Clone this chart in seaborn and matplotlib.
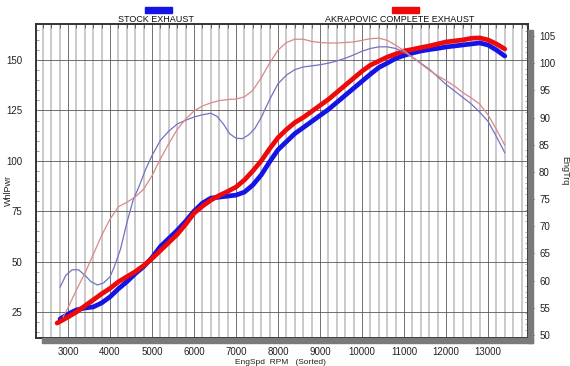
import pandas as pd
import matplotlib.pyplot as plt
import seaborn as sns
from matplotlib.ticker import MultipleLocator
from matplotlib.patches import Rectangle

# wheel power, stock exhaust (thick blue, left axis)
stock_pwr_rpm = [2810, 3000, 3200, 3400, 3600, 3800, 4000, 4200, 4400, 4600, 4800, 5000,
                 5200, 5400, 5600, 5800, 6000, 6200, 6400, 6600, 6800, 7000, 7200, 7400,
                 7600, 7800, 8000, 8200, 8400, 8600, 8800, 9000, 9200, 9400, 9600, 9800,
                 10000, 10200, 10400, 10600, 10800, 11000, 11200, 11400, 11600, 11800,
                 12000, 12200, 12400, 12600, 12800, 13000, 13200, 13400]
stock_pwr = [21.5, 24, 26, 27, 27.5, 29.5, 32.5, 36.5, 40, 44, 47.5, 52,
             57.5, 61.5, 65.5, 70, 75, 79, 81.5, 82, 82.5, 83, 84.5, 88,
             93, 99.5, 105.5, 109.5, 113.5, 116.5, 119.5, 122.5, 125.5, 129, 132.5, 136,
             139.5, 143, 146.3, 148.5, 150.8, 152.3, 153.5, 154.5, 155.2, 155.8,
             156.5, 157, 157.5, 158, 158.5, 157.5, 155, 152]

# wheel power, akrapovic (thick red, left axis)
akra_pwr_rpm = [2740, 3000, 3200, 3400, 3600, 3800, 4000, 4200, 4400, 4600, 4800, 5000,
                5200, 5400, 5600, 5800, 6000, 6200, 6400, 6600, 6800, 7000, 7200, 7400,
                7600, 7800, 8000, 8200, 8400, 8600, 8800, 9000, 9200, 9400, 9600, 9800,
                10000, 10200, 10400, 10600, 10800, 11000, 11200, 11400, 11600, 11800,
                12000, 12200, 12400, 12600, 12800, 13000, 13200, 13400]
akra_pwr = [19.5, 22.5, 25, 28, 31, 34, 36.7, 40, 42.5, 45, 48, 51.5,
            55.5, 59.5, 63.5, 68.5, 74, 77.5, 80.5, 82.8, 84.8, 87, 90.5, 95,
            100, 106, 111.5, 115.5, 119, 121.5, 124.5, 127.5, 130.5, 134, 137.5, 141,
            144.5, 147.5, 149.5, 151.5, 153, 154.5, 155.3, 156.2, 157, 158,
            159, 159.5, 160, 160.8, 161, 160, 158, 155.5]

# engine torque, stock (thin blue, right axis)
stock_trq_rpm = [2810, 2950, 3100, 3250, 3400, 3550, 3700, 3850, 4000, 4100, 4250, 4400,
                 4550, 4700, 4850, 5000, 5200, 5400, 5600, 5800, 6000, 6200, 6400, 6550,
                 6700, 6850, 7000, 7150, 7300, 7450, 7600, 7800, 8000, 8200, 8400, 8600,
                 8800, 9000, 9200, 9400, 9600, 9800, 10000, 10200, 10400, 10600, 10800,
                 11000, 11200, 11400, 11600, 11800, 12000, 12200, 12400, 12600, 12800,
                 13000, 13200, 13400]
stock_trq = [58.8, 61, 62, 62, 61, 59.8, 59.2, 59.6, 60.7, 62.5, 65.8, 70.6,
             74.8, 77.5, 80.5, 83, 85.8, 87.5, 88.8, 89.5, 90.1, 90.5, 90.8, 90.2,
             88.8, 87, 86.2, 86.1, 86.8, 88, 90, 93.3, 96.2, 97.8, 98.8, 99.3,
             99.5, 99.7, 100, 100.4, 100.9, 101.5, 102.2, 102.7, 103, 103, 102.7,
             102, 101.1, 100, 98.9, 97.5, 96.1, 94.9, 93.7, 92.5, 91,
             89.3, 86.5, 83.5]

# engine torque, akrapovic (thin red, right axis)
akra_trq_rpm = [2880, 3000, 3200, 3400, 3600, 3800, 4000, 4200, 4400, 4600, 4800, 5000,
                5200, 5400, 5600, 5800, 6000, 6200, 6400, 6600, 6800, 7000, 7200, 7400,
                7600, 7800, 8000, 8200, 8400, 8600, 8800, 9000, 9200, 9400, 9600, 9800,
                10000, 10200, 10400, 10600, 10800, 11000, 11200, 11400, 11600, 11800,
                12000, 12200, 12400, 12600, 12800, 13000, 13200, 13400]
akra_trq = [53.3, 55, 58.3, 61.3, 64.8, 68.3, 71.3, 73.6, 74.4, 75.4, 76.8, 79.3,
            82.4, 85.2, 87.8, 89.7, 91.2, 92.1, 92.7, 93.1, 93.3, 93.4, 93.8, 95,
            97.3, 100, 102.4, 103.8, 104.4, 104.4, 104, 103.8, 103.7, 103.7, 103.8, 103.9,
            104.2, 104.5, 104.6, 104.2, 103.3, 102.3, 101.1, 99.9, 98.7, 97.7,
            96.8, 95.8, 94.6, 93.6, 92.5, 90.5, 87.8, 84.9]

x_ticks = list(range(3000, 14000, 1000))
left_ticks = [25, 50, 75, 100, 125, 150]
right_ticks = list(range(50, 110, 5))

W, H = 570, 366

sns.set_style("white")
plt.rcParams["font.family"] = ["Liberation Sans", "DejaVu Sans"]

fig = plt.figure(figsize=(5.7, 3.66), dpi=100)
ax = fig.add_axes([36 / W, 1 - 338 / H, (528 - 36) / W, (338 - 24) / H])
ax2 = ax.twinx()

# drop shadow below and right of the plot box
fig.patches.append(Rectangle((42 / W, 1 - 343 / H), (533 - 42) / W, 5 / H,
                             transform=fig.transFigure, color="#7a7a7a", zorder=0))
fig.patches.append(Rectangle((528 / W, 1 - 343 / H), 5 / W, (343 - 30) / H,
                             transform=fig.transFigure, color="#7a7a7a", zorder=0))

pwr = pd.concat([
    pd.DataFrame({"rpm": stock_pwr_rpm, "whp": stock_pwr, "run": "stock"}),
    pd.DataFrame({"rpm": akra_pwr_rpm, "whp": akra_pwr, "run": "akra"}),
])
trq = pd.concat([
    pd.DataFrame({"rpm": stock_trq_rpm, "trq": stock_trq, "run": "stock"}),
    pd.DataFrame({"rpm": akra_trq_rpm, "trq": akra_trq, "run": "akra"}),
])

sns.lineplot(data=pwr, x="rpm", y="whp", hue="run", estimator=None,
             palette={"stock": "#1414e6", "akra": "#ee0a0a"}, lw=3.4,
             legend=False, ax=ax, zorder=3)
sns.lineplot(data=trq, x="rpm", y="trq", hue="run", estimator=None,
             palette={"stock": "#7272c4", "akra": "#d88888"}, lw=0.9,
             legend=False, ax=ax2, zorder=3)

ax.set_xlim(2238, 13952)
ax.set_ylim(12.1, 167.9)
ax2.set_ylim(49.45, 107.2)

ax.set_xticks(x_ticks)
ax.xaxis.set_minor_locator(MultipleLocator(200))
ax.set_yticks(left_ticks)
ax.yaxis.set_minor_locator(MultipleLocator(5))
ax2.set_yticks(right_ticks)
ax2.yaxis.set_minor_locator(MultipleLocator(1))

ax.grid(which="minor", axis="x", color="#c6c6c6", lw=1.3)
ax.grid(which="major", axis="x", color="#5a5a5a", lw=0.6)
ax.grid(which="major", axis="y", color="#5a5a5a", lw=0.6)
ax.set_axisbelow(True)

ax.tick_params(axis="x", which="major", length=0, pad=6.5, labelsize=7, colors="#222222")
ax.tick_params(axis="x", which="minor", top=True, bottom=False, direction="in",
               length=3, width=0.6, color="#555555")
ax.tick_params(axis="y", which="major", length=0, pad=10, labelsize=7, colors="#222222")
ax.tick_params(axis="y", which="minor", left=True, direction="in", length=2,
               width=0.5, color="#777777")
ax2.tick_params(axis="y", which="major", length=4, width=0.6, pad=4, labelsize=7,
                colors="#222222", direction="out")
ax2.tick_params(axis="y", which="minor", right=True, direction="in", length=2,
                width=0.5, color="#888888")

for a in (ax, ax2):
    for s in a.spines.values():
        s.set_color("#333333")
        s.set_linewidth(1.2)

ax.set_xlabel("")
ax.set_ylabel("")
ax2.set_ylabel("")

fig.text(280 / W, 1 - 362.5 / H, "EngSpd  RPM   (Sorted)", ha="center", va="center",
         fontsize=6, color="#222222")
fig.text(8 / W, 1 - 190 / H, "WhlPwr", rotation=90, ha="center", va="center",
         fontsize=6.5, color="#222222")
fig.text(565 / W, 1 - 171 / H, "EngTrq", rotation=270, ha="center", va="center",
         fontsize=6.5, color="#222222")

# legend swatches over the run names
fig.patches.append(Rectangle((145 / W, 1 - 13 / H), 27 / W, 6 / H,
                             transform=fig.transFigure, color="#1414e6"))
fig.text(156 / W, 1 - 19 / H, "STOCK EXHAUST", ha="center", va="center",
         fontsize=6.5, color="#111111", fontweight="medium")
fig.patches.append(Rectangle((392 / W, 1 - 13 / H), 27 / W, 6 / H,
                             transform=fig.transFigure, color="#ee0a0a"))
fig.text(400 / W, 1 - 19 / H, "AKRAPOVIC COMPLETE EXHAUST", ha="center", va="center",
         fontsize=6.5, color="#111111", fontweight="medium")

fig.savefig("out.png", dpi=100)
